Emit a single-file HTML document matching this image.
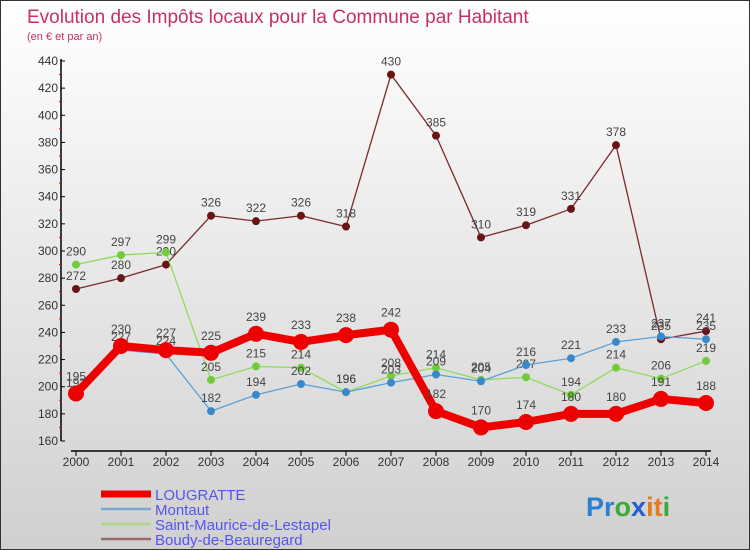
<!DOCTYPE html>
<html><head><meta charset="utf-8">
<style>
body{margin:0;}
#c{width:750px;height:550px;position:relative;background:linear-gradient(#ffffff,#d0d0d0);border:1px solid #333;box-sizing:border-box;overflow:hidden;font-family:"Liberation Sans",sans-serif;}
</style></head>
<body>
<div id="c">
<svg id="s" width="750" height="550" style="position:absolute;left:0;top:0">
<text x="26" y="22" font-size="19" fill="#c8305f">Evolution des Impôts locaux pour la Commune par Habitant</text>
<text x="26" y="39" font-size="11" fill="#c8305f">(en € et par an)</text>
<g id="axes"></g>
<g id="series"></g>
<g id="legend"></g>
<text x="585" y="515" font-size="27" font-weight="bold"><tspan fill="#2a7fd0">Pr</tspan><tspan fill="#3aa83a">o</tspan><tspan fill="#1f5fcf">x</tspan><tspan fill="#e87a1a">it</tspan><tspan fill="#3aa83a">i</tspan></text>
</svg>
</div>
<script>
const years=[2000,2001,2002,2003,2004,2005,2006,2007,2008,2009,2010,2011,2012,2013,2014];
const yTicks=[160,180,200,220,240,260,280,300,320,340,360,380,400,420,440];
const lougratte=[195,230,227,225,239,233,238,242,182,170,174,180,180,191,188];
const montaut=[193,227,224,182,194,202,196,203,209,204,216,221,233,237,235];
const saintMaurice=[290,297,299,205,215,214,196,208,214,205,207,194,214,206,219];
const boudy=[272,280,290,326,322,326,318,430,385,310,319,331,378,235,241];
const seriesNames=["LOUGRATTE","Montaut","Saint-Maurice-de-Lestapel","Boudy-de-Beauregard"];

const NS="http://www.w3.org/2000/svg";
function X(i){return 75+i*(630/(years.length-1));}
function Y(v){return 440-(v-160)*(380/280);}
function mk(tag,attrs,parent){const e=document.createElementNS(NS,tag);for(const k in attrs)e.setAttribute(k,attrs[k]);parent.appendChild(e);return e;}
const axes=document.getElementById('axes');
const ya=mk('line',{x1:60,y1:58,x2:60,y2:440,stroke:'#000','stroke-width':1.5},axes);


const xa=mk('line',{x1:70,y1:450,x2:710,y2:450,stroke:'#000','stroke-width':1.5},axes);


yTicks.forEach((t,i)=>{
  const y=Y(t);
  mk('line',{x1:60,y1:y,x2:64,y2:y,stroke:'#000'},axes);
  if(i<yTicks.length-1) mk('line',{x1:58,y1:y-13.6,x2:61,y2:y-13.6,stroke:'#e00'},axes);
  const tx=mk('text',{x:57,y:y+4,'font-size':12,fill:'#333','text-anchor':'end'},axes);
  tx.textContent=t;
  
  
});
years.forEach((yr,i)=>{
  const x=X(i);
  mk('line',{x1:x,y1:450,x2:x,y2:455,stroke:'#000'},axes);
  const tx=mk('text',{x:x,y:465,'font-size':12,fill:'#333','text-anchor':'middle'},axes);
  tx.textContent=yr;
  
  
});
const defs=[
 {d:boudy,c:'#7a2a2a',f:'#6a1515',w:1.3,r:4,n:'series-boudy'},
 {d:saintMaurice,c:'#8ddc5a',f:'#70cc3a',w:1.3,r:4,n:'series-saint-maurice'},
 {d:montaut,c:'#5aa0d8',f:'#3a88cc',w:1.3,r:4,n:'series-montaut'},
 {d:lougratte,c:'#ee0000',f:'#ee0000',w:8,r:8,n:'series-lougratte'}
];
const sg=document.getElementById('series');
defs.forEach(s=>{
  const g=mk('g',{},sg);
  
  
  mk('polyline',{points:s.d.map((v,i)=>X(i)+','+Y(v)).join(' '),fill:'none',stroke:s.c,'stroke-width':s.w,'stroke-linejoin':'round'},g);
  s.d.forEach((v,i)=>{
    const p=mk('circle',{cx:X(i),cy:Y(v),r:s.r,fill:s.f},g);
    
    
    const t=mk('text',{x:X(i),y:Y(v)-(s.r+5),'font-size':12,fill:'#444','text-anchor':'middle'},g);
    t.textContent=v;
    
    
  });
});
const lg=document.getElementById('legend');
const lc=['#ee0000','#7aaad0','#a8d888','#9a6a6a'],lw=[7,2.5,2.5,2.5];
seriesNames.forEach((n,i)=>{
  const y=493+i*15;
  const l=mk('line',{x1:100,y1:y,x2:150,y2:y,stroke:lc[i],'stroke-width':lw[i]},lg);
  
  
  const t=mk('text',{x:154,y:y+6,'font-size':15,fill:'#5555ee'},lg);
  t.textContent=n;
  
  
});
</script>
</body></html>
